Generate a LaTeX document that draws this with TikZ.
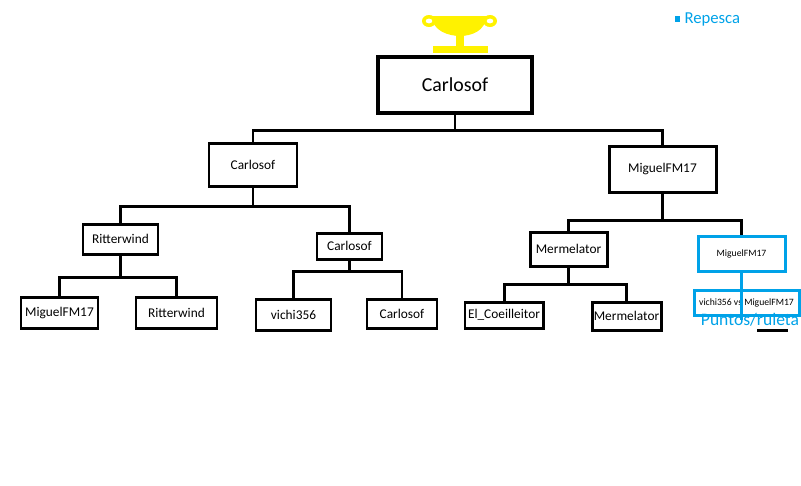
\documentclass[tikz,border=0pt]{standalone}
\usepackage{fontspec}
\setmainfont{Carlito}
\usetikzlibrary{positioning}
\usetikzlibrary{calc}
\definecolor{paintblue}{RGB}{0,162,232}
\definecolor{cupyellow}{RGB}{255,242,0}

\begin{document}
\begin{tikzpicture}[x=0.02cm, y=-0.02cm, line width=1.7pt,
    main/.style = {draw, rectangle, inner sep=0pt, font=\fontsize{7.6}{9}\selectfont},
    blue/.style = {main, draw=paintblue, font=\fontsize{5.5}{6}\selectfont},
    size/.style 2 args = {minimum width=#1*0.02cm, minimum height=#2*0.02cm}]
    \useasboundingbox (0,0) rectangle (801,485);

    % Trophy
    \fill[cupyellow] (433,46) rectangle (488,53);
    \fill[cupyellow] (456,34) rectangle (464,47);
    \fill[cupyellow] (432,16) -- (486,16) .. controls (486,31) and (471,36) .. (460,36)
        .. controls (449,36) and (432,31) .. (432,16) -- cycle;
    \fill[cupyellow, even odd rule] (429,21) ellipse (7 and 6) (429,21) ellipse (3.5 and 2.5);
    \fill[cupyellow, even odd rule] (490,21) ellipse (7 and 6) (490,21) ellipse (3.5 and 2.5);

    % Final
    \node[main, size={154}{56}, line width=2.3pt, font=\fontsize{11.3}{13}\selectfont] (1) at (455,85) {Carlosof};

    % Semifinals
    \node[main, size={88}{43}] (2) at (253,164.5) {Carlosof};
    \node[main, size={107}{46}] (3) at (662.5,169) {MiguelFM17};

    % Quarterfinals
    \node[main, size={75}{30}] (4) at (120.5,239) {Ritterwind};
    \node[main, size={65}{26}] (5) at (349.5,246) {Carlosof};
    \node[main, size={77}{34}] (6) at (568.5,249) {Mermelator};
    \node[blue, size={87}{35}] (7) at (741.5,253.5) {MiguelFM17};

    % First round
    \node[main, size={77}{31}] (8) at (59.5,312.5) {MiguelFM17};
    \node[main, size={81}{31}] (9) at (176.5,312.5) {Ritterwind};
    \node[main, size={75}{31}] (10) at (293.5,314.5) {vichi356};
    \node[main, size={70}{29}] (11) at (402,313.5) {Carlosof};
    \node[main, size={78}{26}] (12) at (504,315) {El\_Coeilleitor};
    \node[main, size={69}{28}] (13) at (626.5,316) {Mermelator};

    % Repesca
    \node[blue, size={105}{25}] (14) at (746.5,302.5) {vichi356 vs MiguelFM17};
    \node[text=paintblue, inner sep=0pt, font=\fontsize{10}{11}\selectfont] (15) at (750,320) {Puntos/ruleta};
    \fill[paintblue] (675,16) rectangle (680,22);
    \node[text=paintblue, inner sep=0pt, anchor=west, font=\fontsize{9.5}{11}\selectfont] (16) at (683,19) {Repesca};

    % Calculate the bar of each bracket below its parent
    \coordinate (b1) at ($(1.south)+(0,15)$);
    \coordinate (b2) at ($(2.south)+(0,19)$);
    \coordinate (b3) at ($(4.south)+(0,22)$);
    \coordinate (b4) at ($(5.south)+(0,11)$);
    \coordinate (b5) at ($(3.south)+(0,27)$);
    \coordinate (b6) at ($(6.south)+(0,17)$);
    \coordinate (b7) at ($(7.south)+(0,47)$);

    \draw (1.south) -- (b1);
    \draw (2.north) |- (b1) -| (3.north);
    \draw (2.south) -- (b2);
    \draw (4.north) |- (b2) -| (5.north);
    \draw (4.south) -- (b3);
    \draw (8.north) |- (b3) -| (9.north);
    \draw (5.south) -- (b4);
    \draw (10.north) |- (b4) -| (11.north);
    \draw (3.south) -- (b5);
    \draw (6.north) |- (b5) -| (7.north);
    \draw (6.south) -- (b6);
    \draw (12.north) |- (b6) -| (13.north);
    \draw[paintblue] (7.south) -- (b7);

    % Stray mark below the repesca
    \draw (757,330) -- (788,330);
\end{tikzpicture}
\end{document}
